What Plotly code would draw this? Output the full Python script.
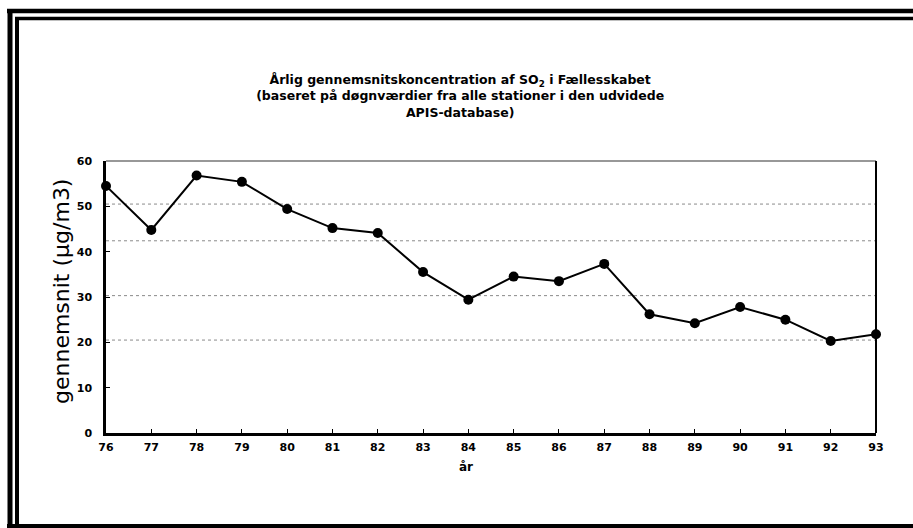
import plotly.graph_objects as go

years = ["76", "77", "78", "79", "80", "81", "82", "83", "84", "85",
         "86", "87", "88", "89", "90", "91", "92", "93"]
so2 = [54.5, 44.8, 56.8, 55.4, 49.4, 45.2, 44.1, 35.5, 29.4, 34.5,
       33.5, 37.3, 26.2, 24.2, 27.8, 25.0, 20.3, 21.8]
y_ticks = [0, 10, 20, 30, 40, 50, 60]
grid_levels = [20.5, 30.3, 42.4, 50.5]

W, H = 913, 528
ML, MR, MT, MB = 106, 37, 161, 95
PW, PH = W - ML - MR, H - MT - MB

def px(x):
    return (x - ML) / PW

def py(y):
    return (H - MB - y) / PH

FONT = "DejaVu Sans, Liberation Sans, Arial, sans-serif"

fig = go.Figure()
fig.add_trace(go.Scatter(
    x=list(range(len(years))), y=so2, mode="lines+markers",
    line=dict(color="black", width=2),
    marker=dict(color="black", size=10),
    showlegend=False, cliponaxis=False,
))

shapes = []
for g in grid_levels:
    shapes.append(dict(type="line", xref="paper", yref="y", x0=0, x1=1, y0=g, y1=g,
                       line=dict(color="#8a8a8a", width=1, dash="dot"), layer="below"))
# plot frame top and right
shapes.append(dict(type="line", xref="paper", yref="paper", x0=0, x1=1, y0=1, y1=1,
                   line=dict(color="#333", width=1.2)))
shapes.append(dict(type="line", xref="paper", yref="paper", x0=1, x1=1, y0=0, y1=1,
                   line=dict(color="black", width=2)))
# outer double border
shapes += [
    dict(type="line", xref="paper", yref="paper", x0=px(7), x1=px(915), y0=py(11), y1=py(11),
         line=dict(color="black", width=4.5)),
    dict(type="line", xref="paper", yref="paper", x0=px(15), x1=px(915), y0=py(18.5), y1=py(18.5),
         line=dict(color="black", width=3.5)),
    dict(type="line", xref="paper", yref="paper", x0=px(10), x1=px(10), y0=py(9), y1=py(530),
         line=dict(color="black", width=5)),
    dict(type="line", xref="paper", yref="paper", x0=px(17), x1=px(17), y0=py(17), y1=py(530),
         line=dict(color="black", width=4)),
    dict(type="line", xref="paper", yref="paper", x0=px(7), x1=px(915), y0=py(526), y1=py(526),
         line=dict(color="black", width=4)),
]

fig.update_layout(
    width=W, height=H,
    margin=dict(l=ML, r=MR, t=MT, b=MB),
    paper_bgcolor="white", plot_bgcolor="white",
    title=dict(
        text="Årlig gennemsnitskoncentration af SO<sub>2</sub> i Fællesskabet<br>"
             "(baseret på døgnværdier fra alle stationer i den udvidede<br>APIS-database)",
        x=0.504, xanchor="center", y=1 - 84 / H, yanchor="top",
        font=dict(family=FONT, size=12.5, color="black", weight="bold"),
    ),
    xaxis=dict(
        range=[0, len(years) - 1], tickmode="array",
        tickvals=list(range(len(years))), ticktext=years,
        showgrid=False, zeroline=False, showline=True, linecolor="black", linewidth=2.5,
        ticks="inside", ticklen=4, tickcolor="black", ticklabelstandoff=2,
        tickfont=dict(family=FONT, size=11, color="black", weight="bold"),
    ),
    yaxis=dict(
        range=[0, 60], tickvals=y_ticks,
        showgrid=False, zeroline=False, showline=True, linecolor="black", linewidth=2.5,
        ticks="inside", ticklen=4, tickcolor="black", ticklabelstandoff=9,
        tickfont=dict(family=FONT, size=11, color="black", weight="bold"),
    ),
    shapes=shapes,
    annotations=[
        dict(text="år", xref="paper", yref="paper", x=px(466), y=py(467),
             xanchor="center", yanchor="middle",
             showarrow=False, font=dict(family=FONT, size=12, color="black", weight="bold")),
        dict(text="gennemsnit (µg/m3)", xref="paper", yref="paper", x=px(61), y=py(292),
             xanchor="center", yanchor="middle",
             textangle=-90, showarrow=False,
             font=dict(family=FONT, size=22, color="black")),
    ],
)

fig.write_html("out.html", config={"displayModeBar": False},
               post_script="document.body.style.margin='0';")
